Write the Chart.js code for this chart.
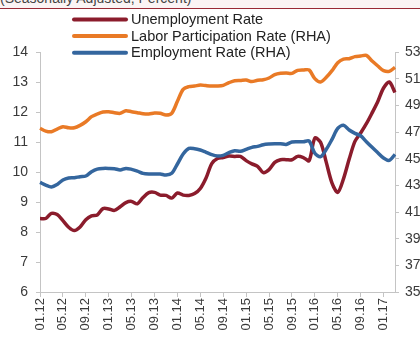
<!DOCTYPE html>
<html lang="en">
<head>
<meta charset="UTF-8">
<title>Unemployment, Labor Participation and Employment Rate</title>
<script src="https://cdn.jsdelivr.net/npm/chart.js"></script>
<style>
  body { margin: 0; background: #fff; }
  .wrap { position: relative; width: 420px; height: 338px; overflow: hidden; }
  .subtitle {
    position: absolute; left: 0; top: 0; width: 420px; height: 8px;
    background: #fbf4f4; border-bottom: 1px solid #9a2a36; overflow: hidden; z-index: 2;
  }
  .subtitle span {
    position: absolute; left: 0; top: -9px; white-space: nowrap;
    font: 14px/14px 'Liberation Sans', Arial, sans-serif; color: #444;
  }
  canvas { position: absolute; left: 0; top: 0; }
</style>
</head>
<body>
<div class="wrap">
  <canvas id="chart" width="420" height="338"></canvas>
  <div class="subtitle"><span>(Seasonally Adjusted, Percent)</span></div>
</div>
<script>
// monthly categories, MM.YY
const months = [
  '01.12','02.12','03.12','04.12','05.12','06.12','07.12','08.12','09.12','10.12','11.12','12.12',
  '01.13','02.13','03.13','04.13','05.13','06.13','07.13','08.13','09.13','10.13','11.13','12.13',
  '01.14','02.14','03.14','04.14','05.14','06.14','07.14','08.14','09.14','10.14','11.14','12.14',
  '01.15','02.15','03.15','04.15','05.15','06.15','07.15','08.15','09.15','10.15','11.15','12.15',
  '01.16','02.16','03.16','04.16','05.16','06.16','07.16','08.16','09.16','10.16','11.16','12.16',
  '01.17','02.17','03.17'
];

// left axis, percent
const unemployment = [
  8.45, 8.45, 8.62, 8.58, 8.38, 8.16, 8.05, 8.17, 8.41, 8.54, 8.57, 8.78,
  8.77, 8.72, 8.84, 8.98, 9.02, 8.94, 9.15, 9.31, 9.32, 9.23, 9.22, 9.13,
  9.30, 9.23, 9.22, 9.28, 9.45, 9.80, 10.28, 10.45, 10.48, 10.53, 10.52, 10.52,
  10.38, 10.27, 10.19, 9.98, 10.08, 10.32, 10.41, 10.41, 10.41, 10.52, 10.48, 10.38,
  11.13, 10.99, 10.32, 9.63, 9.32, 9.77, 10.43, 11.02, 11.30, 11.61, 11.97, 12.35,
  12.80, 13.00, 12.65
];

// right axis, percent
const participation = [
  47.28, 47.07, 47.02, 47.22, 47.40, 47.32, 47.32, 47.50, 47.77, 48.15, 48.35, 48.50,
  48.52, 48.45, 48.40, 48.60, 48.52, 48.45, 48.37, 48.35, 48.42, 48.40, 48.27, 48.40,
  49.30, 50.20, 50.40, 50.45, 50.52, 50.48, 50.45, 50.45, 50.50, 50.70, 50.85, 50.87,
  50.90, 50.78, 50.88, 50.92, 51.05, 51.30, 51.40, 51.42, 51.40, 51.62, 51.65, 51.65,
  51.00, 50.75, 51.10, 51.60, 52.20, 52.47, 52.50, 52.65, 52.70, 52.75, 52.32, 51.95,
  51.60, 51.55, 51.85
];

const employment = [
  43.22, 43.02, 42.88, 43.07, 43.40, 43.55, 43.57, 43.65, 43.70, 44.02, 44.22, 44.27,
  44.27, 44.25, 44.15, 44.27, 44.20, 44.07, 43.90, 43.85, 43.85, 43.85, 43.77, 43.90,
  44.60, 45.35, 45.77, 45.75, 45.65, 45.48, 45.30, 45.20, 45.25, 45.45, 45.60, 45.55,
  45.70, 45.85, 45.92, 46.05, 46.10, 46.12, 46.12, 46.07, 46.25, 46.27, 46.27, 46.32,
  45.40, 45.15, 45.70, 46.45, 47.27, 47.50, 47.15, 46.90, 46.72, 46.27, 45.85, 45.45,
  45.05, 44.87, 45.32
];

const leftRange = [6, 14];
const rightRange = [35, 53];

const FONT = "'Liberation Sans', Arial, sans-serif";
const AXIS = '#c4c4c4';
const TEXT = '#3a3a3a';

Chart.defaults.font.family = FONT;

// legend lines in the top-left, over the plot
const lineLegend = {
  id: 'lineLegend',
  afterDraw(chart) {
    const ctx = chart.ctx;
    ctx.save();
    chart.data.datasets.forEach((ds, i) => {
      const y = 19.5 + i * 16.6;
      ctx.strokeStyle = ds.borderColor;
      ctx.lineWidth = 4;
      ctx.lineCap = 'round';
      ctx.beginPath();
      ctx.moveTo(74, y);
      ctx.lineTo(126, y);
      ctx.stroke();
      ctx.fillStyle = '#222';
      ctx.font = '14.5px ' + FONT;
      ctx.textBaseline = 'middle';
      ctx.fillText(ds.label, 131, y + 0.5);
    });
    ctx.restore();
  }
};

const axisTicks = { color: TEXT, font: { size: 14 } };

new Chart(document.getElementById('chart'), {
  type: 'line',
  data: {
    labels: months,
    datasets: [
      { label: 'Unemployment Rate', data: unemployment, yAxisID: 'y',
        borderColor: '#8b1c2c', order: 3 },
      { label: 'Labor Participation Rate (RHA)', data: participation, yAxisID: 'y2',
        borderColor: '#e97a26', order: 2 },
      { label: 'Employment Rate (RHA)', data: employment, yAxisID: 'y2',
        borderColor: '#34669e', order: 1 }
    ]
  },
  options: {
    responsive: false,
    animation: false,
    layout: { padding: { top: 52 } },
    elements: {
      line: { borderWidth: 3.5, tension: 0.3, fill: false },
      point: { radius: 0 }
    },
    plugins: { legend: { display: false }, tooltip: { enabled: false } },
    scales: {
      x: {
        type: 'category',
        grid: { drawOnChartArea: false, tickLength: 5, color: AXIS },
        border: { color: AXIS },
        ticks: {
          autoSkip: false, minRotation: 90, maxRotation: 90, padding: 1,
          color: TEXT, font: { size: 13 },
          callback: (v, i) => (i % 4 === 0 ? months[i] : null)
        },
        afterFit: s => { s.height = 46; }
      },
      y: {
        position: 'left', min: leftRange[0], max: leftRange[1],
        grid: { drawOnChartArea: false, tickLength: 4, color: AXIS },
        border: { color: AXIS },
        ticks: { ...axisTicks, stepSize: 1, padding: 8 },
        afterFit: s => { s.width = 40; }
      },
      y2: {
        position: 'right', min: rightRange[0], max: rightRange[1],
        grid: { drawOnChartArea: false, tickLength: 4, color: AXIS },
        border: { color: AXIS },
        ticks: { ...axisTicks, stepSize: 2, padding: 6 },
        afterFit: s => { s.width = 25; }
      }
    }
  },
  plugins: [lineLegend]
});
</script>
</body>
</html>
